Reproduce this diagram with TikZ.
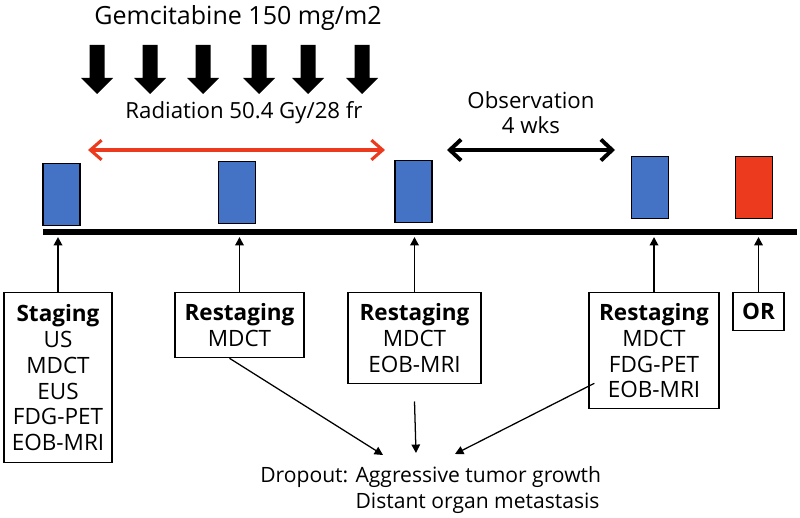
\documentclass[tikz,border=0pt]{standalone}
\usepackage{fontspec}
\setmainfont{Open Sans}
\usetikzlibrary{arrows.meta, positioning, calc}
\definecolor{visitblue}{HTML}{4472C4}
\definecolor{visitred}{HTML}{EC3A1E}

\begin{document}
\begin{tikzpicture}[x=0.025cm, y=-0.025cm,
  visit/.style={draw=black, line width=0.8pt, fill=visitblue, minimum width=0.925cm, minimum height=1.55cm, inner sep=0pt},
  exam/.style={draw=black, line width=0.9pt, anchor=north, align=center, inner xsep=2pt, inner ysep=0pt, font=\fontsize{16}{18.4}\selectfont},
  up/.style={-{Triangle[length=6pt,width=6pt]}, line width=1.4pt},
  down/.style={-{Triangle[length=6pt,width=6pt]}, line width=0.9pt}]
  \useasboundingbox (0,0) rectangle (800,518);

  % Gemcitabine
  \node[font=\fontsize{17.8}{20}\selectfont] (gem) at (238,18) {Gemcitabine 150 mg/m2};
  \foreach \x in {97,150,203,259,308,362} {
    \fill (\x-7.5,45) -- (\x+7.5,45) -- (\x+7.5,78) -- (\x+16,78) -- (\x,94) -- (\x-16,78) -- (\x-7.5,78) -- cycle;
  }

  % Radiation and observation
  \node[font=\fontsize{15.8}{18.5}\selectfont] (rad) at (244,113) {Radiation 50.4 Gy/28 fr};
  \coordinate (r1) at (88,150);
  \coordinate (r2) at (385,150);
  \draw[{Straight Barb[length=8pt,width=14pt]}-{Straight Barb[length=8pt,width=14pt]}, visitred, line width=2.2pt] (r1) -- (r2);
  \node[font=\fontsize{15.8}{18}\selectfont, align=center] (obs) at (531,113) {Observation\\4 wks};
  \coordinate (o1) at (447,150);
  \coordinate (o2) at (615,150);
  \draw[{Straight Barb[length=8pt,width=15pt]}-{Straight Barb[length=8pt,width=15pt]}, line width=2.8pt] (o1) -- (o2);

  % Visits on the time line
  \node[visit] (v1) at (61.5,194.5) {};
  \node[visit] (v2) at (237,192.5) {};
  \node[visit] (v3) at (413.5,191.5) {};
  \node[visit] (v4) at (650,187.5) {};
  \node[visit, fill=visitred] (v5) at (754,187.5) {};
  \coordinate (t0) at (43,232);
  \coordinate (tend) at (797,232);
  \draw[line width=4.4pt] (t0) -- (tend);

  % Examinations
  \node[exam, minimum width=2.7cm, minimum height=4.25cm] (e1) at (58,292) {\textbf{Staging}\\US\\MDCT\\EUS\\FDG-PET\\EOB-MRI};
  \node[exam, minimum width=3.225cm, minimum height=1.625cm] (e2) at (239.5,292) {\textbf{Restaging}\\MDCT};
  \node[exam, minimum width=3.325cm, minimum height=2.275cm] (e3) at (414.5,292) {\textbf{Restaging}\\MDCT\\EOB-MRI};
  \node[exam, minimum width=3.25cm, minimum height=2.9cm] (e4) at (654,292) {\textbf{Restaging}\\MDCT\\FDG-PET\\EOB-MRI};
  \node[exam, minimum width=1.275cm, minimum height=0.95cm] (e5) at (758.5,292) {\textbf{OR}};
  \foreach \i in {1,...,5} {
    \draw[up] (e\i.north) -- (e\i.north |- 0,237);
  }

  % Dropout
  \node[anchor=north west, inner sep=0pt, font=\fontsize{15}{18.5}\selectfont] (drop) at (260,464)
    {\begin{tabular}{@{}l@{ }l@{}}Dropout: & Aggressive tumor growth\\ & Distant organ metastasis\end{tabular}};
  \coordinate (d1) at (383,455);
  \coordinate (d2) at (416,453);
  \coordinate (d3) at (455,454);
  \draw[down] ([xshift=-0.25cm]e2.south) -- (d1);
  \draw[down] ([yshift=-0.43cm]e3.south) -- (d2);
  \draw[down] ([xshift=0.15cm,yshift=0.65cm]e4.south west) -- (d3);
\end{tikzpicture}
\end{document}
